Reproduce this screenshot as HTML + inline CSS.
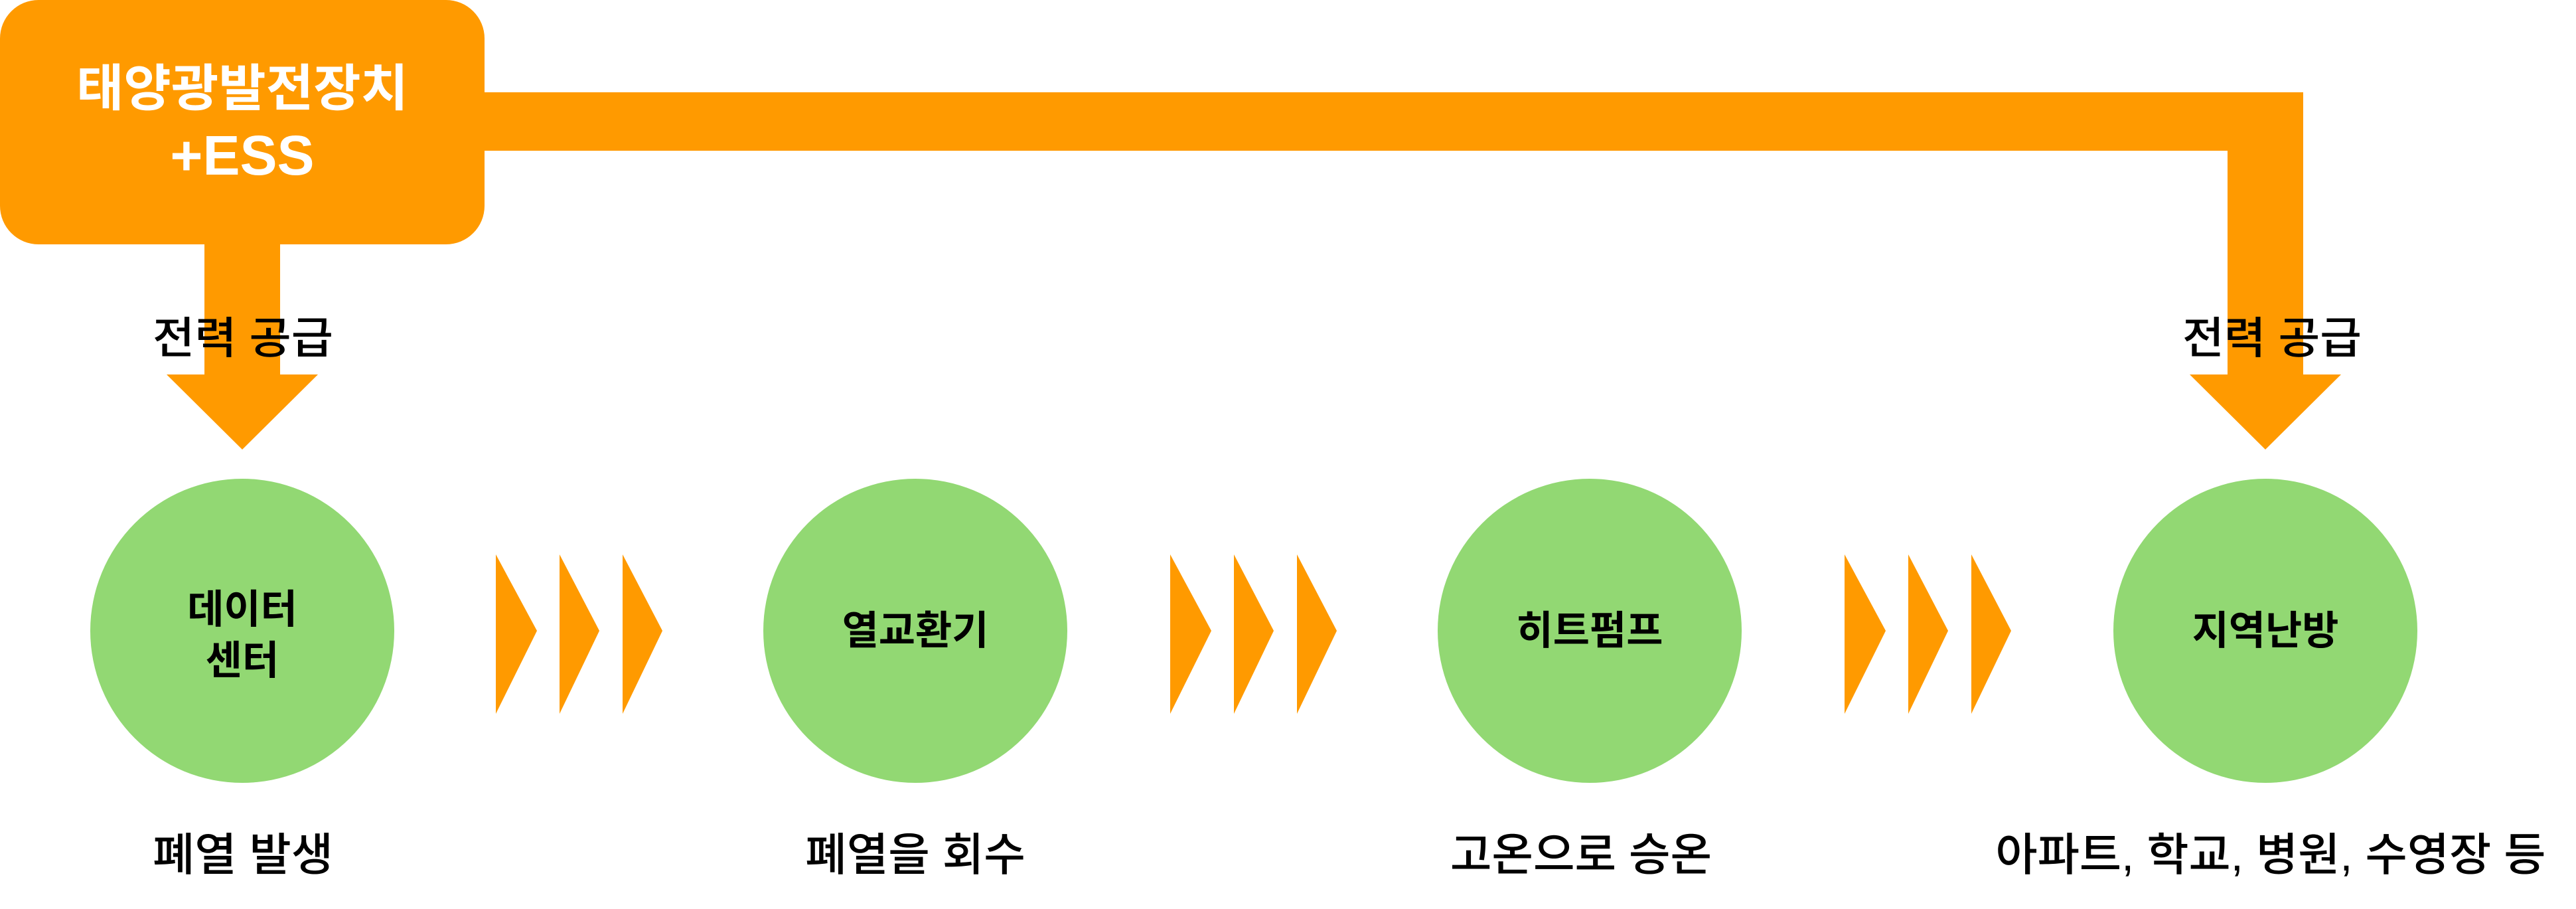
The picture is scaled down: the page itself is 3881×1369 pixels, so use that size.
<!DOCTYPE html>
<html><head><meta charset="utf-8"><style>
html,body{margin:0;padding:0;background:#fff;}
svg{display:block;}
text{font-family:"Liberation Sans","Noto Sans CJK KR",sans-serif;dominant-baseline:central;text-anchor:middle;}
</style></head><body>
<svg width="3881" height="1369" viewBox="0 0 3881 1369" xmlns="http://www.w3.org/2000/svg">
<g fill="#ff9a00">
<rect x="0" y="0" width="730" height="368" rx="58" ry="58"/>
<rect x="700" y="139" width="2770" height="88"/>
<rect x="3356" y="139" width="114" height="425"/>
<polygon points="3299,564 3527,564 3413,677"/>
<rect x="308" y="340" width="114" height="224"/>
<polygon points="251,564 479,564 365,677"/>
</g>
<g fill="#ff9a00">
<polygon points="747,835 809,950 747,1075"/><polygon points="843,835 903,950 843,1075"/><polygon points="938,835 998,950 938,1075"/>
<polygon points="1763,835 1825,950 1763,1075"/><polygon points="1859,835 1919,950 1859,1075"/><polygon points="1954,835 2014,950 1954,1075"/>
<polygon points="2779,835 2841,950 2779,1075"/><polygon points="2875,835 2935,950 2875,1075"/><polygon points="2970,835 3030,950 2970,1075"/>
</g>
<g fill="#92d873">
<circle cx="365" cy="950" r="229"/>
<circle cx="1379" cy="950" r="229"/>
<circle cx="2395" cy="950" r="229"/>
<circle cx="3413" cy="950" r="229"/>
</g>
<g fill="#fff" font-weight="bold">
<text x="365" y="134" font-size="76" textLength="500" lengthAdjust="spacingAndGlyphs">태양광발전장치</text>
<text x="365" y="234" font-size="84">+ESS</text>
</g>
<g fill="#000" font-size="66" font-weight="500">
<text x="366" y="509" textLength="272" lengthAdjust="spacingAndGlyphs">전력 공급</text>
<text x="3423" y="509" textLength="270" lengthAdjust="spacingAndGlyphs">전력 공급</text>
</g>
<g fill="#000" font-size="60" font-weight="bold">
<text x="365" y="918">데이터</text>
<text x="365" y="995">센터</text>
<text x="1379" y="950">열교환기</text>
<text x="2395" y="950">히트펌프</text>
<text x="3413" y="950">지역난방</text>
</g>
<g fill="#000" font-size="68" font-weight="500">
<text x="366" y="1288" textLength="272" lengthAdjust="spacingAndGlyphs">폐열 발생</text>
<text x="1379" y="1288">폐열을 회수</text>
<text x="2382" y="1288">고온으로 승온</text>
<text x="3421" y="1288" textLength="829" lengthAdjust="spacingAndGlyphs">아파트, 학교, 병원, 수영장 등</text>
</g>
</svg>
</body></html>
